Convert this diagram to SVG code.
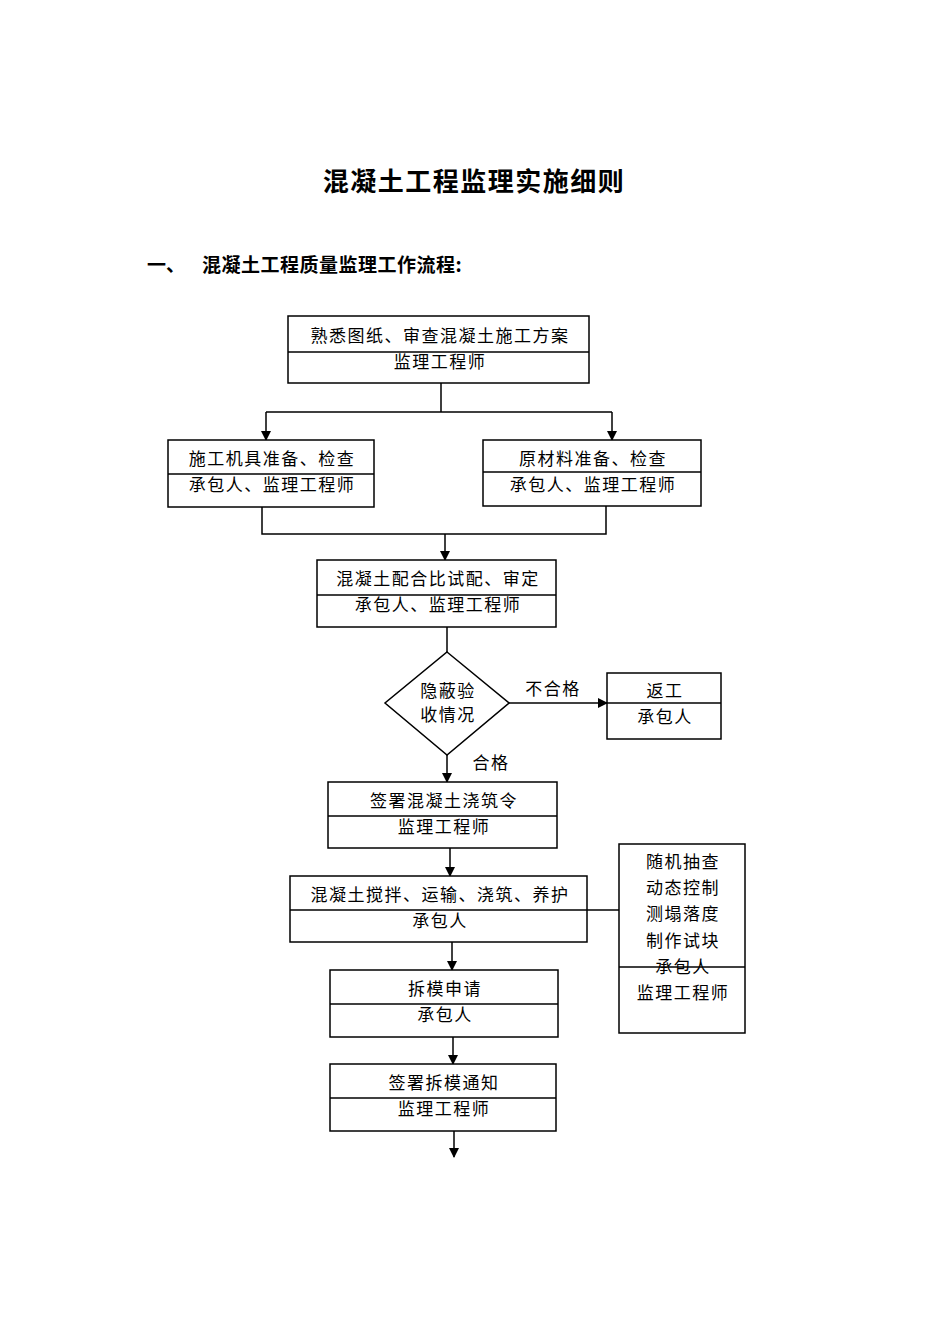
<svg xmlns="http://www.w3.org/2000/svg" width="950" height="1344" viewBox="0 0 950 1344">
<style>
text{font-family:"Noto Sans CJK SC",sans-serif;fill:#000}
.t{font-size:17px;text-anchor:middle;letter-spacing:1.5px}
.h{font-weight:bold}
.b{fill:#fff;stroke:#000;stroke-width:1.5}
.d{fill:none;stroke:#000;stroke-width:1.5}
#connectors path{fill:none;stroke:#000;stroke-width:1.5}
</style>
<defs><marker id="a" markerWidth="10" markerHeight="10" refX="9" refY="5" orient="auto" markerUnits="userSpaceOnUse"><path d="M0,0L10,5L0,10Z" fill="#000"/></marker></defs>
<rect width="950" height="1344" fill="#fff"/>
<text x="474" y="191" class="h" font-size="26" text-anchor="middle" letter-spacing="1.5">混凝土工程监理实施细则</text>
<text x="147" y="272" class="h" font-size="19">一、</text>
<text x="202" y="272" class="h" font-size="19" letter-spacing="0.5">混凝土工程质量监理工作流程:</text>
<g id="connectors">
<path d="M441,383V412M266,412H612"/>
<path d="M266,412V440" marker-end="url(#a)"/>
<path d="M612,412V440" marker-end="url(#a)"/>
<path d="M262,507V534H606V506"/>
<path d="M445,534V560" marker-end="url(#a)"/>
<path d="M447,627V652"/>
<path d="M509,703H607" marker-end="url(#a)"/>
<path d="M447,755V782" marker-end="url(#a)"/>
<path d="M450,848V876" marker-end="url(#a)"/>
<path d="M587,910H619"/>
<path d="M452,942V970" marker-end="url(#a)"/>
<path d="M453,1037V1064" marker-end="url(#a)"/>
<path d="M454,1131V1157" marker-end="url(#a)"/>
</g>
<g id="n1"><rect class="b" x="288" y="316" width="301" height="67"/><path class="d" d="M288,352H589"/><text class="t" x="440" y="342">熟悉图纸、审查混凝土施工方案</text><text class="t" x="440" y="368">监理工程师</text></g>
<g id="n2"><rect class="b" x="168" y="440" width="206" height="67"/><path class="d" d="M168,474H374"/><text class="t" x="272" y="465">施工机具准备、检查</text><text class="t" x="272" y="491">承包人、监理工程师</text></g>
<g id="n3"><rect class="b" x="483" y="440" width="218" height="66"/><path class="d" d="M483,472H701"/><text class="t" x="593" y="465">原材料准备、检查</text><text class="t" x="593" y="491">承包人、监理工程师</text></g>
<g id="n4"><rect class="b" x="317" y="560" width="239" height="67"/><path class="d" d="M317,595H556"/><text class="t" x="438" y="585">混凝土配合比试配、审定</text><text class="t" x="438" y="611">承包人、监理工程师</text></g>
<g id="n5"><polygon class="b" points="447,652 509,703 447,755 385,703"/><text class="t" x="448" y="697">隐蔽验</text><text class="t" x="448" y="721">收情况</text></g>
<text class="t" x="553" y="695">不合格</text>
<text class="t" x="491" y="769">合格</text>
<g id="n6"><rect class="b" x="607" y="673" width="114" height="66"/><path class="d" d="M607,703H721"/><text class="t" x="665" y="697">返工</text><text class="t" x="665" y="723">承包人</text></g>
<g id="n7"><rect class="b" x="328" y="782" width="229" height="66"/><path class="d" d="M328,816H557"/><text class="t" x="444" y="807">签署混凝土浇筑令</text><text class="t" x="444" y="833">监理工程师</text></g>
<g id="n8"><rect class="b" x="290" y="876" width="297" height="66"/><path class="d" d="M290,910H587"/><text class="t" x="440" y="901">混凝土搅拌、运输、浇筑、养护</text><text class="t" x="440" y="927">承包人</text></g>
<g id="n9"><rect class="b" x="619" y="844" width="126" height="189"/><path class="d" d="M619,967H745"/><text class="t" x="683" y="868">随机抽查</text><text class="t" x="683" y="894">动态控制</text><text class="t" x="683" y="920">测塌落度</text><text class="t" x="683" y="947">制作试块</text><text class="t" x="683" y="973">承包人</text><text class="t" x="683" y="999">监理工程师</text></g>
<g id="n10"><rect class="b" x="330" y="970" width="228" height="67"/><path class="d" d="M330,1004H558"/><text class="t" x="445" y="995">拆模申请</text><text class="t" x="445" y="1021">承包人</text></g>
<g id="n11"><rect class="b" x="330" y="1064" width="226" height="67"/><path class="d" d="M330,1098H556"/><text class="t" x="444" y="1089">签署拆模通知</text><text class="t" x="444" y="1115">监理工程师</text></g>
</svg>
